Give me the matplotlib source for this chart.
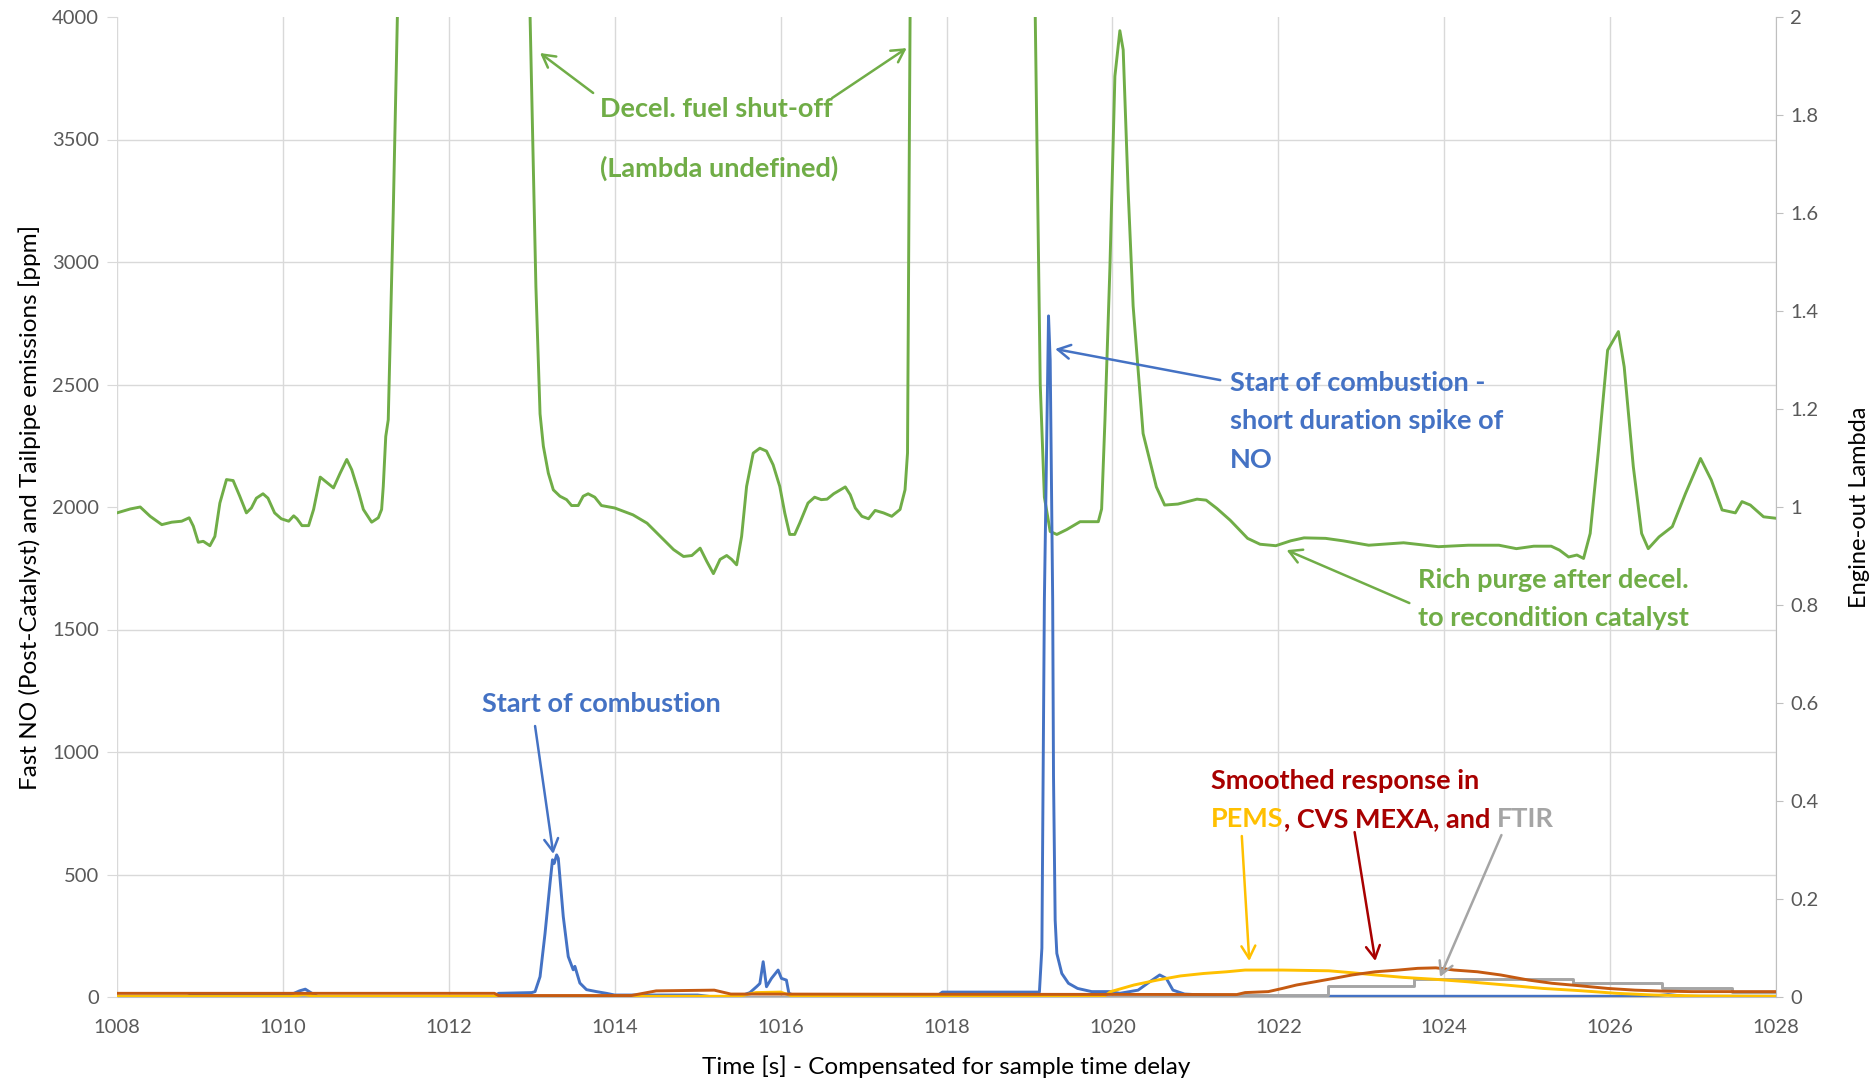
import matplotlib
matplotlib.use("Agg")
import matplotlib.pyplot as plt
from matplotlib.ticker import MultipleLocator, FixedLocator

plt.rcParams['font.family'] = ['Lato', 'DejaVu Sans']

# engine-out lambda (right axis); values above 2 run off the top of the chart
lam_t = [1008.0, 1008.16, 1008.28, 1008.40, 1008.54, 1008.66, 1008.78, 1008.87, 1008.92, 1008.98,
         1009.04, 1009.12, 1009.18, 1009.24, 1009.32, 1009.40, 1009.48, 1009.56, 1009.62, 1009.68,
         1009.76, 1009.82, 1009.90, 1009.98, 1010.07, 1010.13, 1010.17, 1010.23, 1010.31, 1010.37,
         1010.45, 1010.53, 1010.61, 1010.69, 1010.77, 1010.83, 1010.91, 1010.97, 1011.07, 1011.15,
         1011.19, 1011.21, 1011.24, 1011.27, 1011.33, 1011.38, 1011.45, 1012.2, 1012.9, 1012.98,
         1013.05, 1013.10, 1013.14, 1013.20, 1013.26, 1013.34, 1013.42, 1013.48, 1013.56, 1013.62,
         1013.68, 1013.76, 1013.84, 1014.0, 1014.22, 1014.39, 1014.55, 1014.71, 1014.83, 1014.93,
         1015.03, 1015.11, 1015.19, 1015.27, 1015.35, 1015.41, 1015.47, 1015.53, 1015.59, 1015.67,
         1015.75, 1015.83, 1015.91, 1015.99, 1016.05, 1016.11, 1016.17, 1016.23, 1016.33, 1016.41,
         1016.49, 1016.56, 1016.64, 1016.78, 1016.84, 1016.90, 1016.98, 1017.06, 1017.14, 1017.24,
         1017.34, 1017.44, 1017.50, 1017.53, 1017.56, 1017.62, 1018.3, 1019.0, 1019.07, 1019.13,
         1019.18, 1019.25, 1019.33, 1019.45, 1019.61, 1019.83, 1019.87, 1019.91, 1019.97, 1020.03,
         1020.09, 1020.13, 1020.19, 1020.25, 1020.37, 1020.53, 1020.63, 1020.79, 1021.02, 1021.13,
         1021.26, 1021.42, 1021.63, 1021.78, 1021.97, 1022.15, 1022.31, 1022.57, 1022.78, 1023.09,
         1023.51, 1023.93, 1024.29, 1024.66, 1024.87, 1025.08, 1025.29, 1025.39, 1025.50, 1025.60,
         1025.68, 1025.76, 1025.86, 1025.97, 1026.10, 1026.17, 1026.28, 1026.38, 1026.46, 1026.59,
         1026.75, 1026.91, 1027.09, 1027.22, 1027.35, 1027.51, 1027.59, 1027.69, 1027.85, 1028.0]
lam_v = [0.988, 0.996, 1.000, 0.981, 0.964, 0.969, 0.971, 0.978, 0.961, 0.928,
         0.930, 0.921, 0.940, 1.008, 1.056, 1.054, 1.022, 0.988, 0.998, 1.018,
         1.027, 1.018, 0.988, 0.976, 0.971, 0.982, 0.976, 0.962, 0.962, 0.995,
         1.061, 1.050, 1.039, 1.069, 1.097, 1.076, 1.032, 0.995, 0.969, 0.978,
         0.995, 1.042, 1.144, 1.178, 1.60, 2.0, 2.8, 4.0, 2.8, 2.0,
         1.45, 1.19, 1.124, 1.069, 1.035, 1.022, 1.015, 1.003, 1.003, 1.022,
         1.027, 1.020, 1.003, 0.998, 0.984, 0.967, 0.940, 0.913, 0.899, 0.901,
         0.916, 0.889, 0.864, 0.893, 0.901, 0.893, 0.882, 0.940, 1.042, 1.110,
         1.120, 1.114, 1.086, 1.042, 0.988, 0.944, 0.944, 0.967, 1.008, 1.020,
         1.015, 1.016, 1.027, 1.041, 1.025, 0.998, 0.981, 0.976, 0.993, 0.988,
         0.981, 0.995, 1.035, 1.110, 2.0, 3.0, 4.0, 3.0, 2.0, 1.25,
         1.02, 0.950, 0.944, 0.954, 0.970, 0.970, 0.996, 1.176, 1.488, 1.879,
         1.972, 1.933, 1.645, 1.410, 1.150, 1.041, 1.004, 1.006, 1.016, 1.014,
         0.997, 0.973, 0.936, 0.924, 0.921, 0.931, 0.937, 0.936, 0.931, 0.922,
         0.927, 0.919, 0.922, 0.922, 0.915, 0.920, 0.920, 0.912, 0.898, 0.902,
         0.895, 0.946, 1.116, 1.320, 1.358, 1.286, 1.082, 0.946, 0.915, 0.939,
         0.960, 1.028, 1.099, 1.055, 0.994, 0.988, 1.011, 1.004, 0.980, 0.977]

# fast NO post-catalyst [ppm]
no_t = [1008.0, 1008.85, 1008.9, 1010.1, 1010.2, 1010.27, 1010.35, 1010.42, 1012.55, 1012.6,
        1013.0, 1013.04, 1013.10, 1013.16, 1013.22, 1013.25, 1013.27, 1013.30, 1013.32, 1013.38,
        1013.44, 1013.50, 1013.52, 1013.58, 1013.66, 1013.78, 1013.9, 1014.0, 1015.0, 1015.2,
        1015.5, 1015.63, 1015.71, 1015.75, 1015.79, 1015.83, 1015.89, 1015.97, 1016.01, 1016.07,
        1016.10, 1016.15, 1017.9, 1017.95, 1019.12, 1019.15, 1019.18, 1019.23, 1019.25, 1019.28,
        1019.29, 1019.31, 1019.33, 1019.39, 1019.47, 1019.58, 1019.75, 1019.98, 1020.09, 1020.31,
        1020.45, 1020.57, 1020.65, 1020.73, 1020.87, 1021.1, 1021.4, 1026.5, 1026.7, 1026.9, 1028.0]
no_v = [3, 3, 10, 10, 25, 32, 15, 2, 2, 15,
        18, 22, 83, 259, 463, 560, 545, 580, 566, 328,
        165, 111, 125, 57, 30, 22, 15, 8, 8, 0,
        2, 18, 42, 55, 144, 42, 76, 110, 76, 69,
        15, 8, 8, 20, 20, 200, 1620, 2780, 2600, 1620,
        900, 314, 178, 96, 56, 35, 22, 22, 15, 28,
        62, 90, 76, 28, 12, 8, 3, 3, 10, 3, 3]

# PEMS [ppm]
pems_t = [1008.0, 1010.1, 1010.25, 1010.4, 1015.5, 1015.7, 1016.0, 1016.15, 1019.9, 1019.98,
          1020.26, 1020.54, 1020.82, 1021.1, 1021.38, 1021.6, 1022.05, 1022.61, 1022.89, 1023.17,
          1023.51, 1023.9, 1024.29, 1024.74, 1025.19, 1025.63, 1026.08, 1026.53, 1027.09, 1028.0]
pems_v = [2, 2, 10, 2, 3, 18, 20, 3, 3, 22,
          49, 69, 86, 96, 103, 110, 110, 107, 99, 90,
          80, 72, 62, 49, 35, 26, 15, 8, 4, 3]

# CVS MEXA [ppm]
cvs_t = [1008.0, 1012.55, 1012.6, 1014.2, 1014.5, 1015.2, 1015.4, 1021.5, 1021.6, 1021.88,
         1022.05, 1022.22, 1022.44, 1022.67, 1022.89, 1023.17, 1023.45, 1023.68, 1023.9, 1024.12,
         1024.4, 1024.68, 1025.02, 1025.3, 1025.63, 1025.97, 1026.3, 1026.64, 1026.98, 1028.0]
cvs_v = [15, 15, 6, 6, 25, 28, 12, 10, 18, 22,
         35, 49, 62, 76, 90, 103, 110, 117, 119, 110,
         103, 90, 69, 56, 46, 35, 28, 24, 22, 22]

# FTIR [ppm], stepwise
ftir_t = [1008.0, 1021.5, 1022.6, 1023.64, 1025.55, 1026.63, 1027.47, 1028.0]
ftir_v = [0, 8, 44, 74, 56, 35, 22, 22]

x_ticks = list(range(1008, 1029, 2))
left_ticks = list(range(0, 4001, 500))
right_ticks = [0, 0.2, 0.4, 0.6, 0.8, 1.0, 1.2, 1.4, 1.6, 1.8, 2.0]
right_labels = ['0', '0.2', '0.4', '0.6', '0.8', '1', '1.2', '1.4', '1.6', '1.8', '2']

GREEN = '#70AD47'
BLUE = '#4472C4'
YELLOW = '#FFC000'
BROWN = '#C55A11'
GRAY = '#A5A5A5'
DRED = '#A80000'
GRID = '#D9D9D9'
TICK = '#595959'

W, H = 1872, 1079
fig = plt.figure(figsize=(W / 100, H / 100), dpi=100)
L, R, T, B = 117, 1776, 17, 997
ax = fig.add_axes([L / W, 1 - B / H, (R - L) / W, (B - T) / H])
ax2 = ax.twinx()

# ax2 (lambda) sits underneath and carries the grid, ax (ppm) on top
ax.set_zorder(2)
ax2.set_zorder(1)
ax.patch.set_visible(False)
ax2.patch.set_visible(True)
ax2.patch.set_facecolor('white')

ax.set_xlim(1008, 1028)
ax.set_ylim(0, 4000)
ax2.set_ylim(0, 2)

ax2.xaxis.set_visible(True)
ax2.tick_params(axis='x', which='both', bottom=False, top=False, labelbottom=False, labeltop=False)
ax2.set_xticks(x_ticks)
ax2.yaxis.set_minor_locator(MultipleLocator(0.25))
ax2.grid(axis='x', which='major', color=GRID, lw=1)
ax2.grid(axis='y', which='minor', color=GRID, lw=1)
ax2.tick_params(axis='y', which='minor', length=0)

ax2.plot(lam_t, lam_v, color=GREEN, lw=2.1, solid_joinstyle='round')

ax.plot(no_t, no_v, color=BLUE, lw=2.1)
ax.plot(ftir_t, ftir_v, color=GRAY, lw=2.1, drawstyle='steps-post')
ax.plot(pems_t, pems_v, color=YELLOW, lw=2.1)
ax.plot(cvs_t, cvs_v, color=BROWN, lw=2.1)

ax.set_xticks(x_ticks)
ax.set_yticks(left_ticks)
ax.tick_params(axis='x', length=0, pad=16, labelsize=14.5, labelcolor=TICK)
ax.tick_params(axis='y', length=7, color=GRID, pad=6, labelsize=14.5, labelcolor=TICK)
ax2.yaxis.set_major_locator(FixedLocator(right_ticks))
ax2.set_yticklabels(right_labels)
ax2.tick_params(axis='y', which='major', length=5, color='#BFBFBF', pad=5, labelsize=14.5, labelcolor=TICK)

for a in (ax, ax2):
    for s in ('top', 'left', 'right', 'bottom'):
        a.spines[s].set_visible(False)
ax2.spines['right'].set_visible(True)
ax2.spines['right'].set_color('#BFBFBF')
ax2.spines['bottom'].set_visible(True)
ax2.spines['bottom'].set_color('#BFBFBF')

ax.set_ylabel('Fast NO (Post-Catalyst) and Tailpipe emissions [ppm]', fontsize=17.5, labelpad=8)
ax2.set_ylabel('Engine-out Lambda', fontsize=17, labelpad=22)
ax.set_xlabel('Time [s] - Compensated for sample time delay', fontsize=17.5, labelpad=14)

FS = 19.5


def arrow(tail, head, color):
    ax.annotate('', xy=head, xytext=tail,
                arrowprops=dict(arrowstyle='->,head_length=0.9,head_width=0.5',
                                color=color, lw=1.8, shrinkA=0, shrinkB=0))


# decel fuel shut-off
ax.text(1013.82, 3624, 'Decel. fuel shut-off', color=GREEN, fontsize=FS, fontweight='bold', va='center')
ax.text(1013.82, 3384, '(Lambda undefined)', color=GREEN, fontsize=FS, fontweight='bold', va='center')
arrow((1013.74, 3690), (1013.10, 3853), GREEN)
arrow((1016.62, 3669), (1017.52, 3873), GREEN)

# start of combustion spike
ax.text(1021.42, 2506, 'Start of combustion -', color=BLUE, fontsize=FS, fontweight='bold', va='center')
ax.text(1021.42, 2351, 'short duration spike of', color=BLUE, fontsize=FS, fontweight='bold', va='center')
ax.text(1021.42, 2192, 'NO', color=BLUE, fontsize=FS, fontweight='bold', va='center')
arrow((1021.30, 2518), (1019.31, 2645), BLUE)

# rich purge
ax.text(1023.68, 1702, 'Rich purge after decel.', color=GREEN, fontsize=FS, fontweight='bold', va='center')
ax.text(1023.68, 1547, 'to recondition catalyst', color=GREEN, fontsize=FS, fontweight='bold', va='center')
arrow((1023.58, 1608), (1022.10, 1824), GREEN)

# first start of combustion
ax.text(1012.40, 1196, 'Start of combustion', color=BLUE, fontsize=FS, fontweight='bold', va='center')
arrow((1013.04, 1106), (1013.26, 584), BLUE)

# smoothed response
ax.text(1021.19, 882, 'Smoothed response in', color=DRED, fontsize=FS, fontweight='bold', va='center')
t1 = ax.text(1021.19, 727, 'PEMS', color=YELLOW, fontsize=FS, fontweight='bold', va='center')
t2 = ax.annotate(', CVS MEXA, and ', xy=(1, 0), xycoords=t1, va='bottom', ha='left',
                 color=DRED, fontsize=FS, fontweight='bold')
ax.annotate('FTIR', xy=(1, 0), xycoords=t2, va='bottom', ha='left',
            color=GRAY, fontsize=FS, fontweight='bold')
arrow((1021.56, 657), (1021.65, 147), YELLOW)
arrow((1022.92, 673), (1023.17, 147), DRED)
arrow((1024.69, 661), (1023.95, 82), GRAY)

fig.savefig('out.png', dpi=100)
